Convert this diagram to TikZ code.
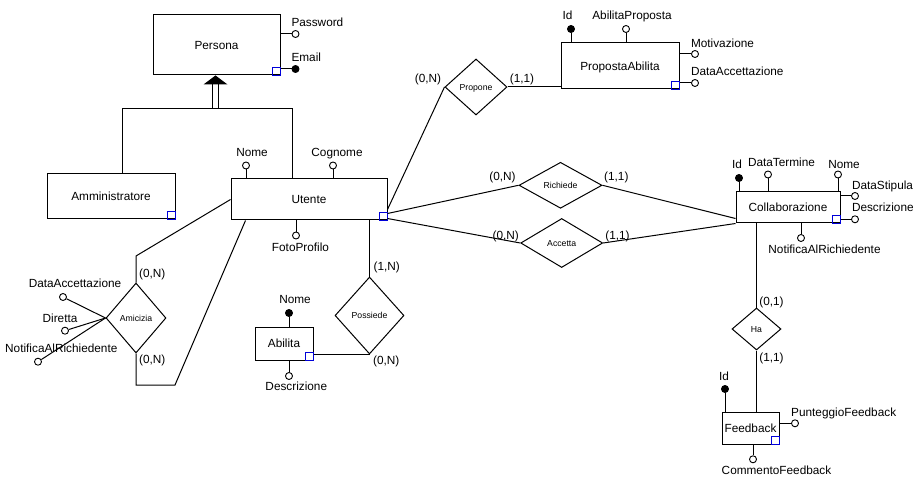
\documentclass[tikz,border=0pt]{standalone}
\usepackage{fontspec}
\setmainfont{Liberation Sans}
\usetikzlibrary{shapes.geometric}
\begin{document}
\begin{tikzpicture}[x=1pt,y=-1pt,line width=1pt,
 ent/.style={draw,rectangle,inner sep=0pt,font=\fontsize{11.8}{13}\selectfont,text height=8.6pt,text depth=0pt},
 rel/.style={draw,diamond,inner sep=0pt,font=\fontsize{8.7}{10}\selectfont,text height=6.3pt,text depth=0pt},
 att/.style={draw,circle,fill=white,inner sep=0pt,minimum size=7pt,line width=0.9pt},
 key/.style={att,fill=black},
 lbl/.style={inner sep=0pt,font=\fontsize{11.8}{13}\selectfont,text height=8.6pt,text depth=0pt},
 idsq/.style={draw=blue!85!black,line width=0.9pt}]
\fill[white] (0,0) rectangle (915,486);
\useasboundingbox (0,0) rectangle (915,486);

% entities
\node[ent,minimum width=127pt,minimum height=60pt] (persona) at (216.5,45) {Persona};
\node[ent,minimum width=128pt,minimum height=45pt] (ammin) at (111,196.5) {Amministratore};
\node[ent,minimum width=156pt,minimum height=41pt] (utente) at (309,199.5) {Utente};
\node[ent,minimum width=118pt,minimum height=46pt] (proposta) at (620,66) {PropostaAbilita};
\node[ent,minimum width=104pt,minimum height=31pt] (collab) at (788,207.5) {Collaborazione};
\node[ent,minimum width=57pt,minimum height=32pt] (feedback) at (750.5,428) {Feedback};
\node[ent,minimum width=58pt,minimum height=33pt] (abilita) at (284,343.5) {Abilita};
\foreach \e in {persona,ammin,utente,proposta,collab,feedback,abilita}
  \draw[idsq] ([xshift=-8pt,yshift=8pt]\e.south east) rectangle (\e.south east);

% relationships
\node[rel,minimum width=62pt,minimum height=56pt] (propone) at (476,87) {Propone};
\node[rel,minimum width=83pt,minimum height=46pt] (richiede) at (560.5,185.3) {Richiede};
\node[rel,minimum width=82pt,minimum height=49pt] (accetta) at (561.7,243) {Accetta};
\node[rel,minimum width=49pt,minimum height=42pt] (ha) at (756.5,329) {Ha};
\node[rel,minimum width=60pt,minimum height=70pt] (amicizia) at (136,318) {Amicizia};
\node[rel,minimum width=69pt,minimum height=77pt] (possiede) at (369.5,315.5) {Possiede};

% generalization
\coordinate (gl) at (122,109);
\coordinate (gr) at (292,109);
\draw (gl |- ammin.north) -- (gl) -- (gr) -- (gr |- utente.north);
\draw (212.5,84) -- (212.5,109);
\draw (218.5,84) -- (218.5,109);
\fill (203.5,84.5) -- (227.5,84.5) -- (215.5,75.5) -- cycle;

% Persona attributes
\node[att] (pw) at (295.5,34) {};
\draw (persona.east |- pw) -- (pw);
\node[lbl,anchor=west] (pwl) at (291,22.5) {Password};
\node[key] (em) at (295.5,69) {};
\draw (persona.east |- em) -- (em);
\node[lbl,anchor=west] (eml) at (291,57) {Email};

% Utente attributes
\node[att] (unome) at (246,165.5) {};
\draw (unome) -- (unome |- utente.north);
\node[lbl] (unomel) at (252,152) {Nome};
\node[att] (ucog) at (333,165.5) {};
\draw (ucog) -- (ucog |- utente.north);
\node[lbl] (ucogl) at (337,152) {Cognome};
\node[att] (ufoto) at (296,235.5) {};
\draw (ufoto) -- (ufoto |- utente.south);
\node[lbl] (ufotol) at (300.5,247) {FotoProfilo};

% PropostaAbilita attributes
\node[key] (pid) at (571,29) {};
\draw (pid) -- (pid |- proposta.north);
\node[lbl] (pidl) at (567.5,15.5) {Id};
\node[att] (pabp) at (626,29) {};
\draw (pabp) -- (pabp |- proposta.north);
\node[lbl] (pabpl) at (632,15.5) {AbilitaProposta};
\node[att] (pmot) at (695,54) {};
\draw (proposta.east |- pmot) -- (pmot);
\node[lbl,anchor=west] (pmotl) at (690.5,43) {Motivazione};
\node[att] (pdata) at (695,83) {};
\draw (proposta.east |- pdata) -- (pdata);
\node[lbl,anchor=west] (pdatal) at (690.5,71) {DataAccettazione};

% Collaborazione attributes
\node[key] (cid) at (739,178) {};
\draw (cid) -- (cid |- collab.north);
\node[lbl] (cidl) at (737,164.5) {Id};
\node[att] (cterm) at (768,174.5) {};
\draw (cterm) -- (cterm |- collab.north);
\node[lbl] (cterml) at (781.5,162.5) {DataTermine};
\node[att] (cnome) at (838,174.5) {};
\draw (cnome) -- (cnome |- collab.north);
\node[lbl] (cnomel) at (844,164.5) {Nome};
\node[att] (cstip) at (855,196) {};
\draw (collab.east |- cstip) -- (cstip);
\node[lbl,anchor=west] (cstipl) at (851.5,185) {DataStipula};
\node[att] (cdesc) at (855,219.3) {};
\draw (collab.east |- cdesc) -- (cdesc);
\node[lbl,anchor=west] (cdescl) at (851.5,207.7) {Descrizione};
\node[att] (cnot) at (801,238) {};
\draw (cnot) -- (cnot |- collab.south);
\node[lbl] (cnotl) at (824.5,249.5) {NotificaAlRichiedente};

% Feedback attributes
\node[key] (fid) at (725,389) {};
\draw (fid) -- (fid |- feedback.north);
\node[lbl] (fidl) at (724,376.5) {Id};
\node[att] (fpun) at (795,423.3) {};
\draw (feedback.east |- fpun) -- (fpun);
\node[lbl,anchor=west] (fpunl) at (790.7,411.7) {PunteggioFeedback};
\node[att] (fcom) at (753,459.3) {};
\draw (fcom) -- (fcom |- feedback.south);
\node[lbl] (fcoml) at (776.5,470.5) {CommentoFeedback};

% Abilita attributes
\node[key] (anome) at (289,313) {};
\draw (anome) -- (anome |- abilita.north);
\node[lbl] (anomel) at (295,299.5) {Nome};
\node[att] (adesc) at (289,376) {};
\draw (adesc) -- (adesc |- abilita.south);
\node[lbl] (adescl) at (296.3,386.5) {Descrizione};

% Amicizia attributes
\node[att] (mdata) at (63,297) {};
\draw (mdata) -- (amicizia.west);
\node[lbl] (mdatal) at (75,283.5) {DataAccettazione};
\node[att] (mdir) at (65,330.7) {};
\draw (mdir) -- (amicizia.west);
\node[lbl] (mdirl) at (60,318) {Diretta};
\node[att] (mnot) at (38,361.7) {};
\draw (mnot) -- (amicizia.west);
\node[lbl] (mnotl) at (61.3,348.3) {NotificaAlRichiedente};

% relationship connectors
\draw ([yshift=11pt]utente.south east) -- (propone.west);
\draw (propone.east) -- (propone.east -| proposta.west);
\draw ([yshift=7pt]utente.south east) -- (richiede.west);
\draw (richiede.east) -- ([yshift=5pt]collab.south west);
\draw ([yshift=2pt]utente.south east) -- (accetta.west);
\draw (accetta.east) -- (collab.south west);
\draw (ha.north |- collab.south) -- (ha.north);
\draw (ha.south) -- (ha.south |- feedback.north);
\draw (possiede.north |- utente.south) -- (possiede.north);
\draw (possiede.south) -- (possiede.south -| abilita.east);
\coordinate (am1) at (136,256);
\coordinate (am2) at (136,385);
\coordinate (am3) at (175,385);
\draw (utente.west) -- (am1) -- (amicizia.north);
\draw (amicizia.south) -- (am2) -- (am3) -- ([xshift=15pt]utente.south west);

% cardinalities
\node[lbl] (c1) at (428,78.3) {(0,N)};
\node[lbl] (c2) at (522,78.3) {(1,1)};
\node[lbl] (c3) at (502.5,176.7) {(0,N)};
\node[lbl] (c4) at (616.3,176.7) {(1,1)};
\node[lbl] (c5) at (505.8,235) {(0,N)};
\node[lbl] (c6) at (617.5,235) {(1,1)};
\node[lbl] (c7) at (771.5,300.7) {(0,1)};
\node[lbl] (c8) at (771.5,357.3) {(1,1)};
\node[lbl] (c9) at (152.3,273.3) {(0,N)};
\node[lbl] (c10) at (152.3,359) {(0,N)};
\node[lbl] (c11) at (386.7,266.7) {(1,N)};
\node[lbl] (c12) at (386.3,360) {(0,N)};
\end{tikzpicture}
\end{document}
